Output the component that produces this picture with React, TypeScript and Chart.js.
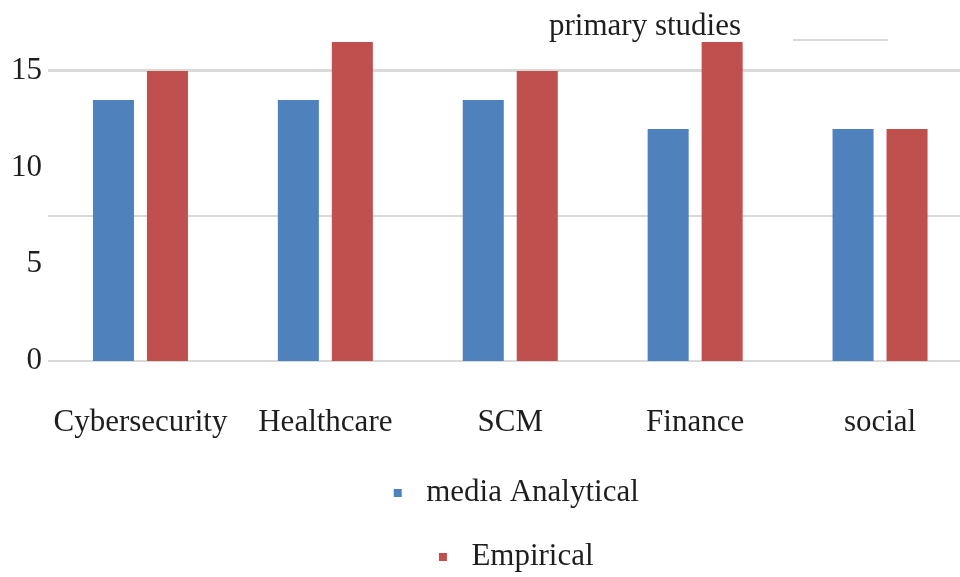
import React, { useEffect, useRef } from "react";
import { Chart, registerables } from "chart.js";

Chart.register(...registerables);

const categories = ["Cybersecurity", "Healthcare", "SCM", "Finance", "social"];
const analyticalValues = [13.5, 13.5, 13.5, 12, 12];
const empiricalValues = [15, 16.5, 15, 16.5, 12];
const seriesNames = ["media Analytical", "Empirical"];
const yTickLabels = [0, 5, 10, 15];
const yGridValues = [0, 7.5, 15];
const chartTitle = "primary studies";

const FONT = "'Liberation Serif', 'Times New Roman', serif";
const TEXT = "#1e1e1e";
const BLUE = "#4F81BD";
const RED = "#C0504D";
const GRID = "#d9d9d9";

function makeLegendMarker(color: string) {
  const c = document.createElement("canvas");
  c.width = 72;
  c.height = 8;
  const g = c.getContext("2d")!;
  g.fillStyle = color;
  g.fillRect(55, 0, 8, 8);
  return c;
}

const titlePlugin = {
  id: "floatingTitle",
  afterDraw(chart: any) {
    const { ctx } = chart;
    ctx.save();
    ctx.font = `31px ${FONT}`;
    ctx.fillStyle = TEXT;
    ctx.textAlign = "center";
    ctx.textBaseline = "alphabetic";
    ctx.fillText(chartTitle, 645, 35);
    ctx.strokeStyle = GRID;
    ctx.lineWidth = 2;
    ctx.beginPath();
    ctx.moveTo(793, 40);
    ctx.lineTo(888, 40);
    ctx.stroke();
    ctx.restore();
  },
};

// one legend entry per row (stacked, each row centred)
const stackedLegendPlugin = {
  id: "stackedLegend",
  beforeLayout(chart: any) {
    const lg = chart.legend;
    if (!lg || lg.__stacked) return;
    const origFit = lg._fitRows;
    lg._fitRows = function (...args: any[]) {
      const saved = this.maxWidth;
      this.maxWidth = 1;
      const h = origFit.apply(this, args);
      this.maxWidth = saved;
      return h;
    };
    const origDraw = lg.draw;
    lg.draw = function (...args: any[]) {
      const l = this.left;
      const r = this.right;
      const inset = Math.max(0, (r - l) / 2 - 200);
      this.left = l + inset;
      this.right = r - inset;
      origDraw.apply(this, args);
      this.left = l;
      this.right = r;
    };
    lg.__stacked = true;
  },
};

export default function App() {
  const ref = useRef<HTMLCanvasElement>(null);
  useEffect(() => {
    if (!ref.current) return;
    const markers = [makeLegendMarker(BLUE), makeLegendMarker(RED)];
    const chart = new Chart(ref.current, {
      type: "bar",
      data: {
        labels: categories,
        datasets: [
          {
            label: seriesNames[0],
            data: analyticalValues,
            backgroundColor: BLUE,
            pointStyle: markers[0] as any,
            barPercentage: 0.76,
            categoryPercentage: 0.584,
          },
          {
            label: seriesNames[1],
            data: empiricalValues,
            backgroundColor: RED,
            pointStyle: markers[1] as any,
            barPercentage: 0.76,
            categoryPercentage: 0.584,
          },
        ],
      },
      options: {
        responsive: false,
        animation: false,
        devicePixelRatio: 1,
        layout: { padding: { left: 5, right: 1.5, top: 0, bottom: 0 } },
        scales: {
          x: {
            grid: { display: false, drawTicks: false },
            border: { display: false },
            ticks: {
              font: { family: FONT, size: 31 },
              color: TEXT,
              padding: 43,
              maxRotation: 0,
              autoSkip: false,
            },
            afterFit: (axis: any) => {
              axis.height = 83;
            },
          },
          y: {
            position: "left",
            min: 0,
            max: 17.4,
            afterBuildTicks: (axis: any) => {
              axis.ticks = yTickLabels.map((v) => ({ value: v }));
            },
            grid: { display: false, drawTicks: false },
            border: { display: false },
            ticks: {
              font: { family: FONT, size: 31 },
              color: TEXT,
              padding: 6,
            },
          },
          y2: {
            position: "right",
            min: 0,
            max: 17.4,
            afterBuildTicks: (axis: any) => {
              axis.ticks = yGridValues.map((v) => ({ value: v }));
            },
            grid: {
              color: GRID,
              lineWidth: (c: any) => (c.tick && c.tick.value === 15 ? 3 : 2),
              drawTicks: false,
            },
            border: { display: false },
            ticks: { display: false },
          },
        },
        plugins: {
          legend: {
            position: "bottom",
            labels: {
              usePointStyle: true,
              pointStyleWidth: 72,
              boxHeight: 8,
              padding: 33,
              font: { family: FONT, size: 31 },
              color: TEXT,
            },
          },
          title: { display: false },
          tooltip: { enabled: false },
        },
      },
      plugins: [titlePlugin, stackedLegendPlugin],
    } as any);
    return () => chart.destroy();
  }, []);
  return (
    <div
      style={{
        position: "fixed",
        left: 0,
        top: 0,
        width: 960,
        height: 577,
        overflow: "hidden",
        background: "#fff",
      }}
    >
      <canvas ref={ref} width={974} height={582} style={{ display: "block" }} />
    </div>
  );
}
